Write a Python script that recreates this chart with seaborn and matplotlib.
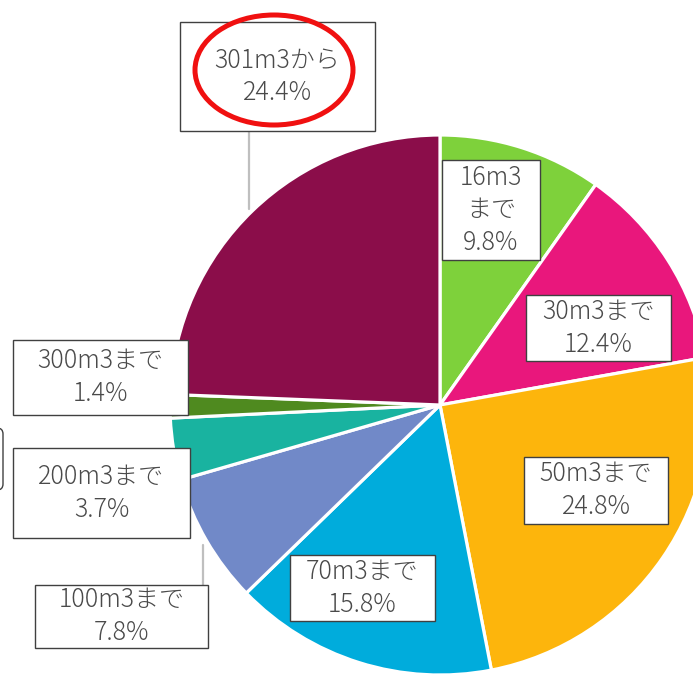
import seaborn as sns
import numpy as np
import pandas as pd
import matplotlib.pyplot as plt
from matplotlib.patches import Rectangle, Ellipse, FancyBboxPatch

# データ
categories = ['16m3まで', '30m3まで', '50m3まで', '70m3まで', '100m3まで', '200m3まで', '300m3まで', '301m3から']
shares = [9.8, 12.4, 24.8, 15.8, 7.8, 3.7, 1.4, 24.4]
colors = ['#7ED13B', '#E9177C', '#FDB50C', '#00ACDC', '#7189C8', '#19B3A0', '#4F8A1F', '#8B0D4A']

sns.set_theme(style='white')
plt.rcParams['font.family'] = ['Noto Sans CJK JP', 'DejaVu Sans']

W, H = 693, 676
fig = plt.figure(figsize=(W / 100, H / 100), dpi=100)
ax = fig.add_axes([0, 0, 1, 1])

df = pd.DataFrame({'cat': categories, 'share': shares})
ax.pie(df['share'], colors=sns.color_palette(colors), startangle=90, counterclock=False,
       center=(440, H - 405), radius=270,
       wedgeprops=dict(edgecolor='white', linewidth=2.3))

ax.set_xlim(0, W)
ax.set_ylim(0, H)
ax.set_aspect('equal')
ax.axis('off')

# ラベルの箱 (x0, y0, x1, y1) 画面座標
boxes = [(442, 160, 540, 260), (526, 295, 671, 361), (524, 457, 668, 524), (290, 555, 435, 621),
         (35, 585, 208, 648), (13, 448, 190, 538), (13, 340, 188, 415), (180, 22, 375, 131)]

# 引き出し線
ax.plot([249, 249], [H - 131, H - 209], color='#BFBFBF', lw=1.6, zorder=3)
ax.plot([203, 203], [H - 545, H - 585], color='#BFBFBF', lw=1.6, zorder=3)

for cat, val, (x0, y0, x1, y1) in zip(df['cat'], df['share'], boxes):
    if cat == '16m3まで':
        txt = '16m3\nまで\n%.1f%%' % val
    else:
        txt = '%s\n%.1f%%' % (cat, val)
    ax.add_patch(Rectangle((x0, H - y1), x1 - x0, y1 - y0, facecolor='white',
                           edgecolor='#404040', lw=1.0, zorder=4))
    ax.text((x0 + x1) / 2, H - (y0 + y1) / 2, txt, ha='center', va='center',
            fontsize=18, fontweight='light', color='#4A4A4A', linespacing=1.3, zorder=5)

# 左端の切れた箱
ax.add_patch(FancyBboxPatch((-60, H - 490), 63, 62, boxstyle='round,pad=0,rounding_size=6',
                            facecolor='white', edgecolor='#404040', lw=1.0, zorder=4, clip_on=False))

# 赤い丸
ax.add_patch(Ellipse((274, H - 70), 158, 110, fill=False, edgecolor='#F01010', lw=3.6, zorder=6))

plt.savefig('out.png', dpi=100)
